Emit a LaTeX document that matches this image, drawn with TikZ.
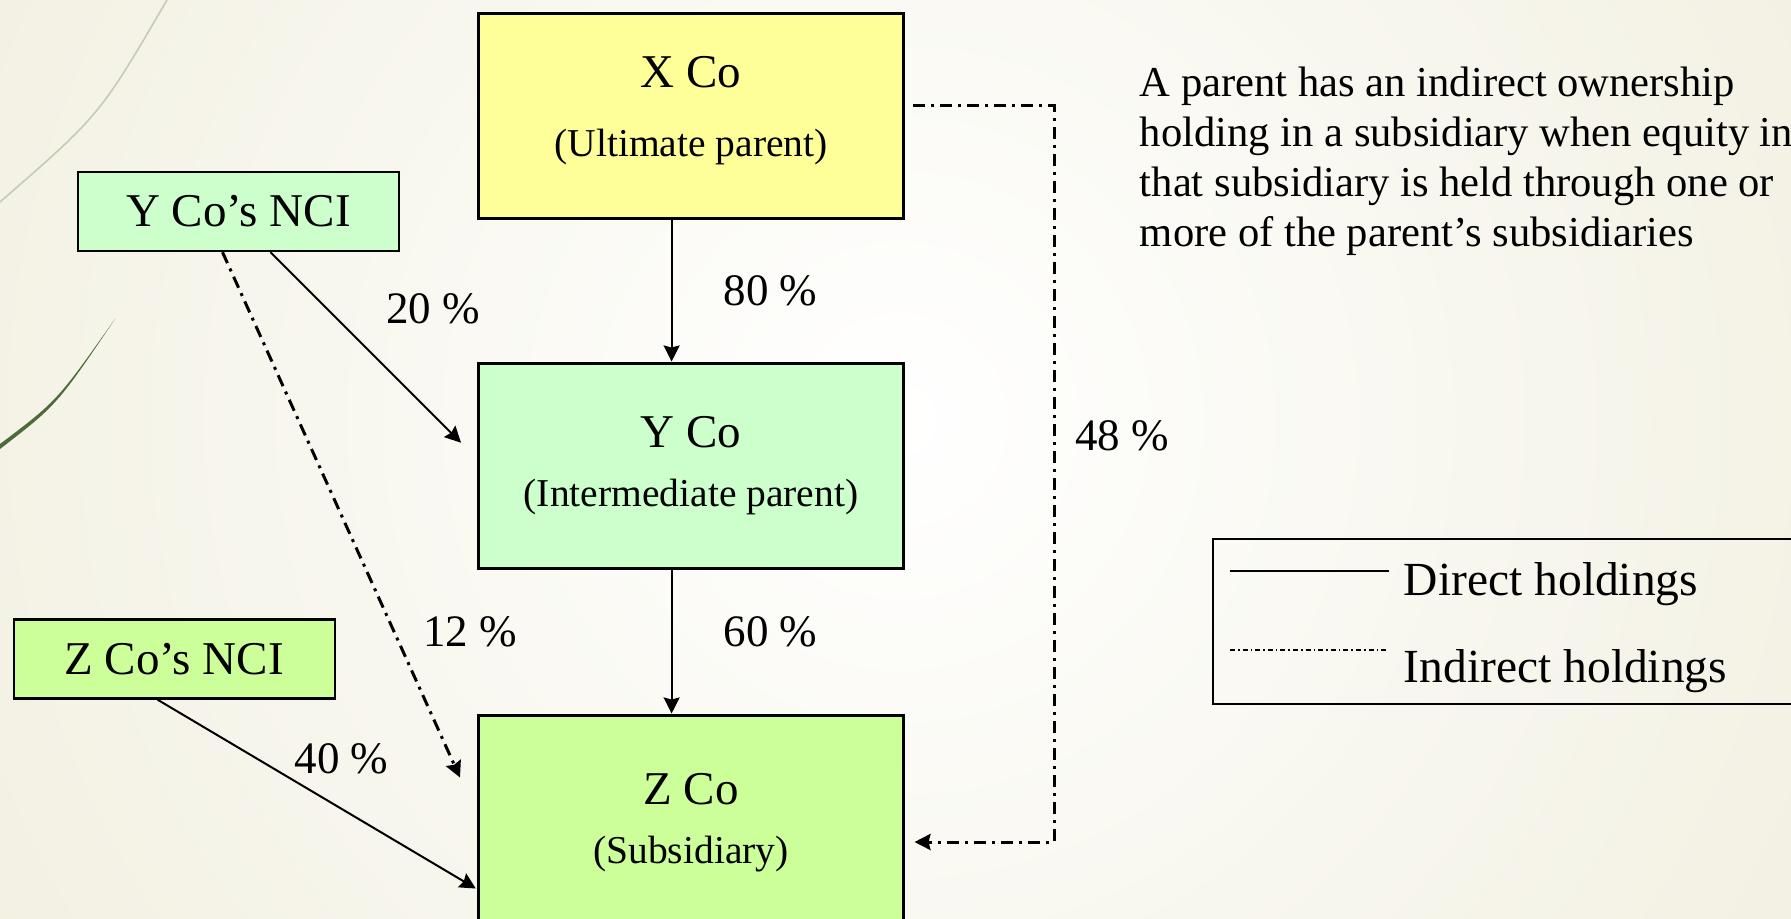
\documentclass[tikz,border=0pt]{standalone}
\usepackage{fontspec}
\setmainfont{Liberation Serif}
\usepackage{xcolor}
\usepackage{tikz}
\usetikzlibrary{positioning, arrows.meta, calc}
\definecolor{sfondo}{HTML}{EDEAD5}
\definecolor{giallino}{HTML}{FFFF99}
\definecolor{verdino}{HTML}{CCFFCC}
\definecolor{verdelime}{HTML}{CCFF99}
\definecolor{ramo}{HTML}{4E6B3A}
\definecolor{ramochiaro}{HTML}{C5CBB5}
\newcommand{\titolo}{\fontsize{23.5}{28}\selectfont}
\newcommand{\sotto}{\fontsize{19.75}{24}\selectfont}
\tikzset{
	>={Stealth[length=8pt, width=8pt, inset=1pt]},
	% società del gruppo (riquadro grande)
	societa/.style={draw, line width=1.5pt, rectangle, minimum width=212.5pt, minimum height=102.5pt,
	                align=center, inner sep=0pt},
	% interessenze di minoranza
	nci/.style={draw, line width=1.2pt, rectangle, minimum width=160.5pt, minimum height=39.5pt,
	            font=\titolo, inner sep=0pt},
	% partecipazione diretta
	diretta/.style={->, line width=1pt},
	% partecipazione indiretta
	indiretta/.style={->, line width=1.5pt, dash pattern=on 6pt off 3pt on 1.5pt off 3pt},
	% percentuale sul ramo
	pct/.style={inner sep=0pt, font=\fontsize{22.5}{27}\selectfont},
	% testo della legenda
	legenda/.style={inner sep=0pt, font=\fontsize{23.75}{28}\selectfont},
}

\begin{document}
\begin{tikzpicture}[x=0.5pt, y=-0.5pt]
    \useasboundingbox (0,0) rectangle (1791,919);
    \fill[sfondo] (0,0) rectangle (1791,919);
    \shade[inner color=white, outer color=sfondo] (900,420) circle [radius=1500];
    \draw[ramochiaro, line width=0.8pt] (0,202) .. controls (100,115) .. (167,0);
    \fill[ramo] (0,449) .. controls (57,405) .. (115,319) .. controls (57,401) .. (0,444) -- cycle;

    \node[societa, fill=giallino] (xco) at (691,116) {\titolo X Co\\[20pt]\sotto (Ultimate parent)\rule[-9.5pt]{0pt}{0pt}};
    \node[societa, fill=verdino] (yco) at (691,465.5) {\titolo Y Co\\[14.75pt]\sotto (Intermediate parent)};
    \node[societa, fill=verdelime] (zco) at (691,817.5) {\titolo\rule{0pt}{20.5pt}Z Co\\[14.75pt]\sotto (Subsidiary)};
    \node[nci, fill=verdino] (ync) at (238.5,211.5) {Y Co’s NCI};
    \node[nci, fill=verdelime] (znc) at (174.2,659) {Z Co’s NCI};

    \draw[diretta] ([xshift=-9.7pt]xco.south) -- node[pct, pos=0.5, right=25.5pt]{80 \%} ([xshift=-9.7pt]yco.north);
    \draw[diretta] ([xshift=-9.7pt]yco.south) -- node[pct, pos=0.43, right=25.5pt]{60 \%} ([xshift=-9.7pt]zco.north);
    \draw[diretta] ([xshift=16pt]ync.south) -- node[pct, pos=0.45, xshift=38.5pt, yshift=14.7pt]{20 \%} ([xshift=-8pt, yshift=11.4pt]yco.west);
    \draw[indiretta] ([xshift=-8pt]ync.south) -- node[pct, pos=0.723, xshift=38pt]{12 \%} ([xshift=-8.5pt, yshift=20pt]zco.west);
    \draw[diretta] ([xshift=-8.3pt]znc.south) -- node[pct, pos=0.578, yshift=25pt]{40 \%} ([xshift=-0.6pt, yshift=-35.5pt]zco.west);

    \coordinate (binario) at (1054,0);
    \coordinate (da48) at ([xshift=4pt, yshift=5pt]xco.east);
    \coordinate (a48) at ([xshift=4.75pt, yshift=-12.25pt]zco.east);
    \draw[indiretta] (da48) -- (da48 -| binario) -- node[pct, pos=0.448, right=9.8pt]{48 \%} (a48 -| binario) -- (a48);

    \node[anchor=north west, align=left, inner sep=0pt, font=\fontsize{21.3}{25}\selectfont] (nota) at (1139.5,67)
      {A parent has an indirect ownership\\holding in a subsidiary when equity in\\that subsidiary is held through one or\\more of the parent’s subsidiaries};

    \node[draw, line width=1pt, minimum width=308.5pt, minimum height=82.5pt, inner sep=0pt] (riquadro) at (1521.5,621.5) {};
    \draw[line width=1pt] (1230,571) -- (1388.5,571);
    \draw[line width=0.6pt, dash pattern=on 2.5pt off 1.5pt on 0.8pt off 1.5pt] (1230,650) -- (1388.5,650);
    \node[legenda, anchor=base west] (lgdir) at (1403.5,595) {Direct holdings};
    \node[legenda, anchor=base west] (lgind) at (1403.5,682) {Indirect holdings};
  \end{tikzpicture}
\end{document}
